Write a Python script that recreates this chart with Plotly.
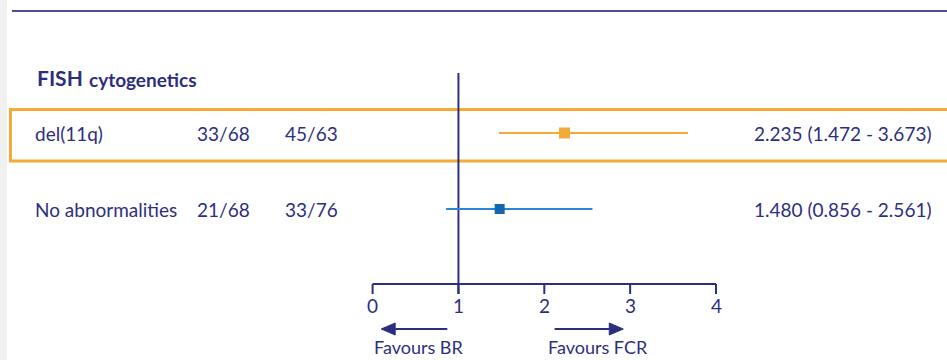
import plotly.graph_objects as go

# ---- data ----
section_title = "FISH"
section_subtitle = "cytogenetics"
subgroups = ["del(11q)", "No abnormalities"]
events_br = ["33/68", "21/68"]
events_fcr = ["45/63", "33/76"]
hazard_ratio = [2.235, 1.480]
ci_lower = [1.472, 0.856]
ci_upper = [3.673, 2.561]
axis_ticks = [0, 1, 2, 3, 4]
favour_labels = ["Favours BR", "Favours FCR"]

# ---- styling / layout ----
W, H = 947, 360
X0, UNIT = 372.6, 85.85          # pixel of x=0 and pixels per unit
NAVY = "#2d2f7e"
ORANGE = "#f4aa36"
BLUE_LINE = "#2a86d4"
BLUE_MARK = "#1466b3"
FONT = "Lato"
ROW_Y = [133, 209]
MARK_COLORS = [(ORANGE, ORANGE), (BLUE_LINE, BLUE_MARK)]
MARK_SIZES = [11, 10]
AXIS_Y = 284
TICK_LEN = 10
REF_TOP = 73


def dx(p):
    """pixel column -> data x"""
    return (p - X0) / UNIT


fig = go.Figure()

for i in range(len(subgroups)):
    line_c, mark_c = MARK_COLORS[i]
    fig.add_trace(go.Scatter(
        x=[hazard_ratio[i]], y=[ROW_Y[i]], mode="markers",
        marker=dict(symbol="square", size=MARK_SIZES[i], color=mark_c,
                    line=dict(width=0)),
        error_x=dict(type="data", symmetric=False,
                     array=[ci_upper[i] - hazard_ratio[i]],
                     arrayminus=[hazard_ratio[i] - ci_lower[i]],
                     color=line_c, thickness=2, width=0),
        showlegend=False, hoverinfo="skip",
    ))

shapes = []
# light strip along the left edge
shapes.append(dict(type="rect", xref="paper", yref="y", x0=0, x1=7 / W,
                   y0=0, y1=H, fillcolor="#f1f1f1", line=dict(width=0),
                   layer="below"))
# rule across the top
shapes.append(dict(type="line", xref="x", yref="y", x0=dx(12), x1=dx(960),
                   y0=11, y1=11, line=dict(color="#4b4f90", width=2)))
# highlight frame around the first row
shapes.append(dict(type="rect", xref="x", yref="y", x0=dx(10.5), x1=dx(960),
                   y0=109.5, y1=161, line=dict(color=ORANGE, width=3),
                   layer="below"))
# reference line at 1
shapes.append(dict(type="line", xref="x", yref="y", x0=1, x1=1,
                   y0=REF_TOP, y1=AXIS_Y + TICK_LEN,
                   line=dict(color=NAVY, width=2), layer="below"))
# axis line and ticks
shapes.append(dict(type="line", xref="x", yref="y", x0=axis_ticks[0],
                   x1=axis_ticks[-1], y0=AXIS_Y, y1=AXIS_Y,
                   line=dict(color=NAVY, width=2)))
for t in axis_ticks:
    shapes.append(dict(type="line", xref="x", yref="y", x0=t, x1=t,
                       y0=AXIS_Y, y1=AXIS_Y + TICK_LEN,
                       line=dict(color=NAVY, width=2)))

# direction arrows (tail, tip) in axis units
ARROWS = [(0.87, 0.10), (2.12, 2.92)]
ARROW_Y = 329
HEAD_LEN = 14 / UNIT
HEAD_HALF = 6
for tail, tip in ARROWS:
    d = 1 if tip > tail else -1
    base = tip - d * HEAD_LEN
    shapes.append(dict(type="line", xref="x", yref="y", x0=tail, x1=base,
                       y0=ARROW_Y, y1=ARROW_Y,
                       line=dict(color=NAVY, width=2)))
    shapes.append(dict(type="path", xref="x", yref="y",
                       path=f"M {tip},{ARROW_Y} L {base},{ARROW_Y - HEAD_HALF} "
                            f"L {base},{ARROW_Y + HEAD_HALF} Z",
                       fillcolor=NAVY, line=dict(color=NAVY, width=1)))

ann = []


def text(x_px, y, s, size, bold=False, anchor="left"):
    ann.append(dict(x=dx(x_px), y=y, xref="x", yref="y", text=f"<b>{s}</b>" if bold else s,
                    showarrow=False, xanchor=anchor, yanchor="middle",
                    font=dict(family=FONT, size=size, color=NAVY)))


text(35, 77, section_title, 21, bold=True)
text(87, 79, section_subtitle, 19, bold=True)

for i in range(len(subgroups)):
    text(33, ROW_Y[i], subgroups[i], 19)
    text(195, ROW_Y[i], events_br[i], 19)
    text(283, ROW_Y[i], events_fcr[i], 19)
    label = f"{hazard_ratio[i]:.3f} ({ci_lower[i]:.3f} - {ci_upper[i]:.3f})"
    text(752, ROW_Y[i], label, 19)

for t in axis_ticks:
    ann.append(dict(x=t, y=305, xref="x", yref="y", text=str(t),
                    showarrow=False, xanchor="center", yanchor="middle",
                    font=dict(family=FONT, size=19, color=NAVY)))

text(372, 347, favour_labels[0], 18)
text(546, 347, favour_labels[1], 18)

fig.update_layout(
    width=W, height=H, margin=dict(l=0, r=0, t=0, b=0),
    paper_bgcolor="white", plot_bgcolor="white",
    xaxis=dict(range=[dx(0), dx(W)], visible=False, fixedrange=True),
    yaxis=dict(range=[H, 0], visible=False, fixedrange=True),
    shapes=shapes, annotations=ann, showlegend=False,
)

fig.write_html("out.html")
